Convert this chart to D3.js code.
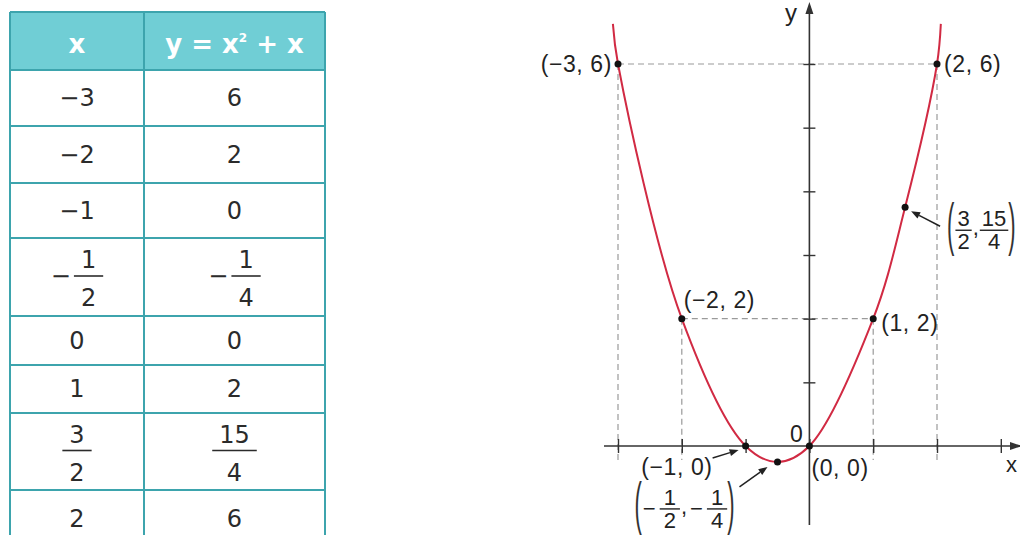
<!DOCTYPE html>
<html>
<head>
<meta charset="utf-8">
<script src="https://cdn.jsdelivr.net/npm/d3@7"></script>
<style>
  html, body { margin: 0; padding: 0; background: #fff; overflow: hidden; }
  svg { display: block; }
</style>
</head>
<body>
<svg id="chart" width="1020" height="535"></svg>
<script>
// Values of y = x² + x at the tabulated x values
const xValues = [-3, -2, -1, -0.5, 0, 1, 1.5, 2];
const yValues = [6, 2, 0, -0.25, 0, 2, 3.75, 6];
// where the drawn curve leaves the top of the plot
const curveEnds = [[-3.08, 6.63], [2.06, 6.63]];
const xTicks = [-3, -2, -1, 0, 1, 2, 3];
const yTicks = [1, 2, 3, 4, 5, 6];
const headerX = "x";
const headerY = ["y = x", "2", " + x"];

const W = 1020, H = 535;
const MINUS = "\u2212";
const svg = d3.select("#chart");

// ---------- helpers ----------
function toFrac(v) {
  const sign = v < 0 ? MINUS : "";
  const a = Math.abs(v);
  for (const den of [1, 2, 4, 8]) {
    if (Math.abs(a * den - Math.round(a * den)) < 1e-9) return { sign, num: Math.round(a * den), den };
  }
  return { sign, num: a, den: 1 };
}
function textWidth(g, str, font) {
  const t = g.append("text").attr("style", font).text(str);
  const w = t.node().getComputedTextLength();
  t.remove();
  return w;
}

// ---------- table ----------
const colX = [10, 144, 325];
const rowY = [12, 70, 126, 183, 238, 316, 365, 413, 490, 548];
const lineColor = "#3da4ad";
const headFill = "#70ced5";
const cellFont = "font-family:'DejaVu Sans';font-size:24px;";
const cellColor = "#2b2b2b";

const table = svg.append("g").attr("class", "table");
table.append("rect")
  .attr("x", colX[0]).attr("y", rowY[0])
  .attr("width", colX[2] - colX[0]).attr("height", rowY[1] - rowY[0])
  .attr("fill", headFill);

table.selectAll("line.h").data(rowY.slice(0, -1)).join("line")
  .attr("class", "h")
  .attr("x1", colX[0]).attr("x2", colX[2])
  .attr("y1", d => d).attr("y2", d => d)
  .attr("stroke", lineColor).attr("stroke-width", 2);
table.selectAll("line.v").data(colX).join("line")
  .attr("class", "v")
  .attr("x1", d => d).attr("x2", d => d)
  .attr("y1", rowY[0]).attr("y2", H)
  .attr("stroke", lineColor).attr("stroke-width", 2);

const headFont = "font-family:'DejaVu Sans';font-weight:bold;font-size:26px;";
const hy = rowY[0] + 41;
table.append("text")
  .attr("x", (colX[0] + colX[1]) / 2).attr("y", hy)
  .attr("text-anchor", "middle").attr("fill", "#fff").attr("style", headFont)
  .text(headerX);
const hText = table.append("text")
  .attr("x", (colX[1] + colX[2]) / 2).attr("y", hy)
  .attr("text-anchor", "middle").attr("fill", "#fff").attr("style", headFont);
hText.append("tspan").text(headerY[0]);
hText.append("tspan").attr("dy", -11).attr("font-size", "12px").text(headerY[1]);
hText.append("tspan").attr("dy", 11).text(headerY[2]);

function drawCell(cx, top, bottom, v) {
  const f = toFrac(v);
  const mid = (top + bottom) / 2;
  if (f.den === 1) {
    table.append("text")
      .attr("x", cx).attr("y", mid + 8)
      .attr("text-anchor", "middle").attr("fill", cellColor).attr("style", cellFont)
      .text(f.sign + f.num);
    return;
  }
  const bar = mid - 1;
  const numW = Math.max(textWidth(table, String(f.num), cellFont), textWidth(table, String(f.den), cellFont));
  const barW = numW + 14;
  const minusW = f.sign ? textWidth(table, MINUS, cellFont) : 0;
  const gap = f.sign ? 3 : 0;
  const total = minusW + gap + barW;
  let x0 = cx - total / 2;
  if (f.sign) {
    table.append("text").attr("x", x0).attr("y", bar + 8)
      .attr("fill", cellColor).attr("style", cellFont).text(MINUS);
    x0 += minusW + gap;
  }
  const fc = x0 + barW / 2;
  table.append("line")
    .attr("x1", x0).attr("x2", x0 + barW).attr("y1", bar).attr("y2", bar)
    .attr("stroke", cellColor).attr("stroke-width", 1.6);
  table.append("text").attr("x", fc).attr("y", bar - 8)
    .attr("text-anchor", "middle").attr("fill", cellColor).attr("style", cellFont).text(f.num);
  table.append("text").attr("x", fc).attr("y", bar + 30)
    .attr("text-anchor", "middle").attr("fill", cellColor).attr("style", cellFont).text(f.den);
}

xValues.forEach((xv, i) => {
  const top = rowY[i + 1], bottom = rowY[i + 2];
  drawCell((colX[0] + colX[1]) / 2, top, bottom, xv);
  drawCell((colX[1] + colX[2]) / 2, top, bottom, yValues[i]);
});

// ---------- graph ----------
const x = d3.scaleLinear().domain([-3, 2]).range([618, 937]);
const y = d3.scaleLinear().domain([0, 6]).range([446, 64]);
const axisColor = "#333";
const dashColor = "#9a9a9a";
const curveColor = "#d12a43";
const labelFont = "font-family:'Liberation Sans';font-size:23px;letter-spacing:0.6px;";

const plot = svg.append("g").attr("class", "plot");
const points = xValues.map((xv, i) => ({ x: xv, y: yValues[i] }));

// dashed guides joining the pairs of points that share a height (y = 2, y = 6)
const guidePts = points.filter(p => p.y > 0 && points.filter(q => q.y === p.y).length > 1);
const levels = Array.from(new Set(guidePts.map(p => p.y)));
levels.forEach(L => {
  const ext = d3.extent(guidePts.filter(p => p.y === L), p => p.x);
  plot.append("line")
    .attr("x1", x(ext[0])).attr("x2", x(ext[1]))
    .attr("y1", y(L)).attr("y2", y(L))
    .attr("stroke", dashColor).attr("stroke-width", 1.2).attr("stroke-dasharray", "6,4");
});
plot.selectAll("line.vguide").data(guidePts).join("line")
  .attr("class", "vguide")
  .attr("x1", d => x(d.x)).attr("x2", d => x(d.x))
  .attr("y1", d => y(d.y)).attr("y2", y(0) + 14)
  .attr("stroke", dashColor).attr("stroke-width", 1.2).attr("stroke-dasharray", "6,4");

// axes lines with arrowheads
const x0 = x(0), y0 = y(0);
plot.append("line").attr("x1", 604).attr("x2", W).attr("y1", y0).attr("y2", y0)
  .attr("stroke", axisColor).attr("stroke-width", 1.6);
plot.append("line").attr("x1", x0).attr("x2", x0).attr("y1", 525).attr("y2", 6)
  .attr("stroke", axisColor).attr("stroke-width", 1.6);
plot.append("path")
  .attr("d", `M${x0},2 L${x0 - 4},14 L${x0 + 4},14 Z`).attr("fill", axisColor);
plot.append("path")
  .attr("d", `M${W + 2},${y0} L${W - 10},${y0 - 4} L${W - 10},${y0 + 4} Z`).attr("fill", axisColor);

// tick marks crossing the axes
const xAxis = plot.append("g")
  .attr("transform", `translate(0,${y0 - 7})`)
  .call(d3.axisBottom(x).tickValues(xTicks).tickSize(14).tickFormat(""));
xAxis.select(".domain").remove();
xAxis.selectAll(".tick line").attr("stroke", axisColor).attr("stroke-width", 1.4);
const yAxis = plot.append("g")
  .attr("transform", `translate(${x0 + 6},0)`)
  .call(d3.axisLeft(y).tickValues(yTicks).tickSize(12).tickFormat(""));
yAxis.select(".domain").remove();
yAxis.selectAll(".tick line").attr("stroke", axisColor).attr("stroke-width", 1.4);

// the parabola through the tabulated points
const curvePts = [curveEnds[0], ...points.map(p => [p.x, p.y]), curveEnds[1]];
plot.append("path")
  .datum(curvePts)
  .attr("fill", "none")
  .attr("stroke", curveColor).attr("stroke-width", 2)
  .attr("d", d3.line().x(d => x(d[0])).y(d => y(d[1])).curve(d3.curveCatmullRom.alpha(0.5)));

plot.selectAll("circle.pt").data(points).join("circle")
  .attr("class", "pt")
  .attr("cx", d => x(d.x)).attr("cy", d => y(d.y)).attr("r", 3.5)
  .attr("fill", "#111");

// axis letters and origin
plot.append("text").attr("x", 785).attr("y", 21).attr("style", labelFont + "font-size:24px;").attr("fill", "#222").text("y");
plot.append("text").attr("x", 1006).attr("y", 472).attr("style", labelFont + "font-size:22px;").attr("fill", "#222").text("x");
plot.append("text").attr("x", x0 - 6).attr("y", y0 - 4).attr("text-anchor", "end")
  .attr("style", labelFont).attr("fill", "#222").text("0");

// point labels
function fmt(v) { return (v < 0 ? MINUS : "") + Math.abs(v); }
const simpleLabels = [
  { i: 0, dx: -6, dy: 8, anchor: "end" },
  { i: 1, dx: 2, dy: -11, anchor: "start" },
  { i: 2, dx: -33, dy: 29, anchor: "end" },
  { i: 4, dx: 2, dy: 30, anchor: "start" },
  { i: 5, dx: 8, dy: 12, anchor: "start" },
  { i: 7, dx: 7, dy: 8, anchor: "start" }
];
simpleLabels.forEach(l => {
  const p = points[l.i];
  plot.append("text")
    .attr("x", x(p.x) + l.dx).attr("y", y(p.y) + l.dy)
    .attr("text-anchor", l.anchor)
    .attr("style", labelFont).attr("fill", "#222")
    .text(`(${fmt(p.x)}, ${fmt(p.y)})`);
});

// labels written with stacked fractions
const fracFont = "font-family:'Liberation Sans';font-size:22px;";
function fracLabel(p, left, barY, pad) {
  const g = plot.append("g");
  let cx = left;
  const paren = (ch) => {
    g.append("text")
      .attr("transform", `translate(${cx},${barY + 14}) scale(1,2.6)`)
      .attr("style", fracFont).attr("fill", "#333").text(ch);
    cx += textWidth(g, ch, fracFont) + 1;
  };
  const part = (v) => {
    const f = toFrac(v);
    if (f.sign) {
      g.append("text").attr("x", cx).attr("y", barY + 7)
        .attr("style", fracFont).attr("fill", "#222").text(MINUS);
      cx += textWidth(g, MINUS, fracFont) + pad / 2;
    }
    if (f.den === 1) {
      g.append("text").attr("x", cx).attr("y", barY + 7)
        .attr("style", fracFont).attr("fill", "#222").text(f.num);
      cx += textWidth(g, String(f.num), fracFont);
      return;
    }
    const w = Math.max(textWidth(g, String(f.num), fracFont), textWidth(g, String(f.den), fracFont)) + pad;
    g.append("line").attr("x1", cx).attr("x2", cx + w).attr("y1", barY).attr("y2", barY)
      .attr("stroke", "#222").attr("stroke-width", 1.4);
    g.append("text").attr("x", cx + w / 2).attr("y", barY - 4).attr("text-anchor", "middle")
      .attr("style", fracFont).attr("fill", "#222").text(f.num);
    g.append("text").attr("x", cx + w / 2).attr("y", barY + 19).attr("text-anchor", "middle")
      .attr("style", fracFont).attr("fill", "#222").text(f.den);
    cx += w;
  };
  paren("(");
  part(p.x);
  g.append("text").attr("x", cx + 1).attr("y", barY + 5).attr("style", fracFont).attr("fill", "#222").text(",");
  cx += textWidth(g, ",", fracFont) + pad / 2;
  part(p.y);
  paren(")");
  // keep the whole label inside the drawing
  const bb = g.node().getBBox();
  if (bb.x + bb.width > W - 1) g.attr("transform", `translate(${W - 1 - bb.x - bb.width},0)`);
}
fracLabel(points[3], x(points[3].x) - 143, y(points[3].y) + 47, 8);
fracLabel(points[6], x(points[6].x) + 42, y(points[6].y) + 23, 4);

// leader arrows
const arrows = [
  { i: 2, tail: [-33, 12], tip: [-7, 4] },
  { i: 3, tail: [-38, 25], tip: [-10, 5] },
  { i: 6, tail: [35, 19], tip: [6, 4] }
];
arrows.forEach(a => {
  const p = points[a.i];
  const px = x(p.x), py = y(p.y);
  const x1 = px + a.tail[0], y1 = py + a.tail[1];
  const x2 = px + a.tip[0], y2 = py + a.tip[1];
  const ang = Math.atan2(y2 - y1, x2 - x1);
  const L = 9, Wd = 3.5;
  const bx = x2 - L * Math.cos(ang), by = y2 - L * Math.sin(ang);
  plot.append("line").attr("x1", x1).attr("y1", y1).attr("x2", bx).attr("y2", by)
    .attr("stroke", "#222").attr("stroke-width", 1.5);
  plot.append("path")
    .attr("d", `M${x2},${y2} L${bx - Wd * Math.sin(ang)},${by + Wd * Math.cos(ang)} L${bx + Wd * Math.sin(ang)},${by - Wd * Math.cos(ang)} Z`)
    .attr("fill", "#222");
});
</script>
</body>
</html>
